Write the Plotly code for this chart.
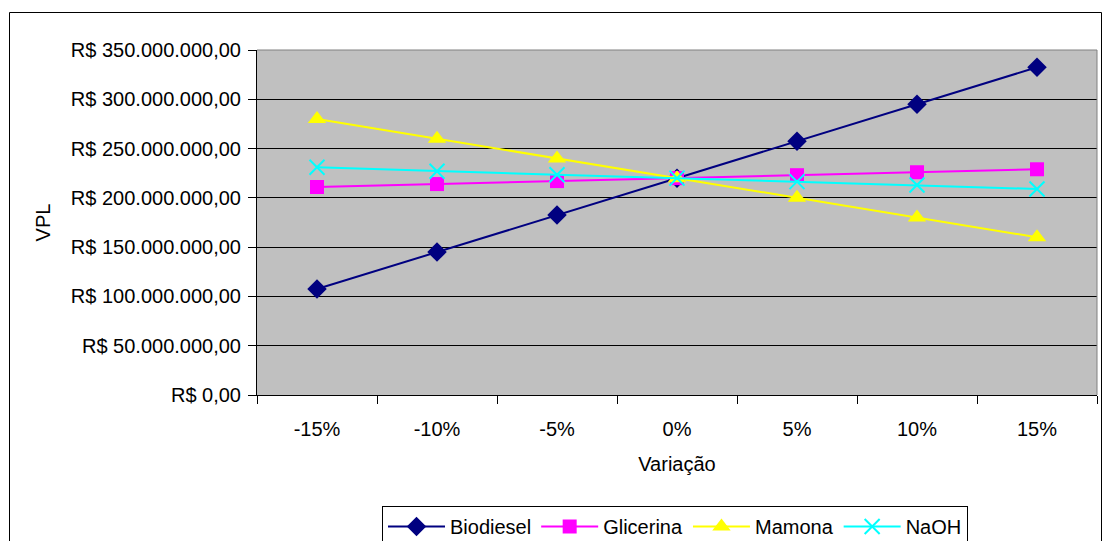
import plotly.graph_objects as go

# Variation scenarios and resulting VPL (R$) for each sensitivity parameter
variacao = ["-15%", "-10%", "-5%", "0%", "5%", "10%", "15%"]
biodiesel = [107.5e6, 145.0e6, 182.5e6, 220.0e6, 257.5e6, 295.0e6, 332.5e6]
glicerina = [211.0e6, 214.0e6, 217.0e6, 220.0e6, 223.0e6, 226.0e6, 229.0e6]
mamona = [280.0e6, 260.0e6, 240.0e6, 220.0e6, 200.0e6, 180.0e6, 160.0e6]
naoh = [231.0e6, 227.0e6, 223.5e6, 220.0e6, 216.5e6, 213.0e6, 209.0e6]

y_tickvals = [0, 50e6, 100e6, 150e6, 200e6, 250e6, 300e6, 350e6]
y_ticktext = [
    "R$ 0,00", "R$ 50.000.000,00", "R$ 100.000.000,00", "R$ 150.000.000,00",
    "R$ 200.000.000,00", "R$ 250.000.000,00", "R$ 300.000.000,00",
    "R$ 350.000.000,00",
]

series = [
    ("Biodiesel", biodiesel, "#000080", "diamond", 15, 0),
    ("Glicerina", glicerina, "#FF00FF", "square", 14, 0),
    ("Mamona", mamona, "#FFFF00", "triangle-up", 16, 0),
    ("NaOH", naoh, "#00FFFF", "x-thin-open", 15, 2),
]

FONT = "Liberation Sans, Arial, sans-serif"
FS = 20

fig = go.Figure()
for name, vals, color, symbol, size, mlw in series:
    fig.add_trace(go.Scatter(
        x=variacao, y=vals, name=name, mode="lines+markers",
        line=dict(color=color, width=2),
        marker=dict(symbol=symbol, size=size, color=color,
                    line=dict(color=color, width=mlw)),
    ))

W, H = 1102, 541
L, R, T, B = 257, 5, 50, 146
pw, ph = W - L - R, H - T - B

def px_x(p):
    return (p - L) / pw

def px_y(p):
    return (H - B - p) / ph

fig.update_layout(
    width=W, height=H,
    margin=dict(l=L, r=R, t=T, b=B),
    paper_bgcolor="white",
    plot_bgcolor="#C0C0C0",
    font=dict(family=FONT, size=FS, color="black"),
    showlegend=True,
    legend=dict(
        orientation="h", xref="container", yref="container",
        x=382 / W, y=(H - 506) / H, xanchor="left", yanchor="top",
        bordercolor="black", borderwidth=1, bgcolor="white",
        font=dict(family=FONT, size=FS), itemwidth=57, tracegroupgap=0,
    ),
    xaxis=dict(
        type="category", range=[-0.5, 6.5],
        showline=True, linecolor="black", linewidth=1,
        ticks="outside", ticklen=8, tickcolor="black", tickson="boundaries",
        showgrid=False, zeroline=False,
        tickfont=dict(family=FONT, size=FS),
        ticklabelstandoff=16,
        title=dict(text="Variação", standoff=17, font=dict(family=FONT, size=FS)),
        automargin=False,
    ),
    yaxis=dict(
        range=[0, 350e6],
        tickvals=y_tickvals, ticktext=y_ticktext,
        showline=True, linecolor="black", linewidth=1,
        ticks="outside", ticklen=8, tickcolor="black",
        showgrid=True, gridcolor="black", gridwidth=1,
        zeroline=False,
        tickfont=dict(family=FONT, size=FS),
        ticklabelstandoff=3,
        title=dict(text="VPL", standoff=14, font=dict(family=FONT, size=FS)),
        automargin=False,
    ),
    shapes=[
        # plot area frame (top/right edges)
        dict(type="line", xref="paper", yref="paper", x0=0, x1=1, y0=1, y1=1,
             line=dict(color="#808080", width=1)),
        dict(type="line", xref="paper", yref="paper", x0=1, x1=1, y0=0, y1=1,
             line=dict(color="#808080", width=1)),
        # chart border
        dict(type="rect", xref="paper", yref="paper",
             x0=px_x(9.5), x1=px_x(1101.5), y0=px_y(560), y1=px_y(12.5),
             line=dict(color="#000000", width=1), layer="below"),
    ],
)

fig.write_html("out.html")
